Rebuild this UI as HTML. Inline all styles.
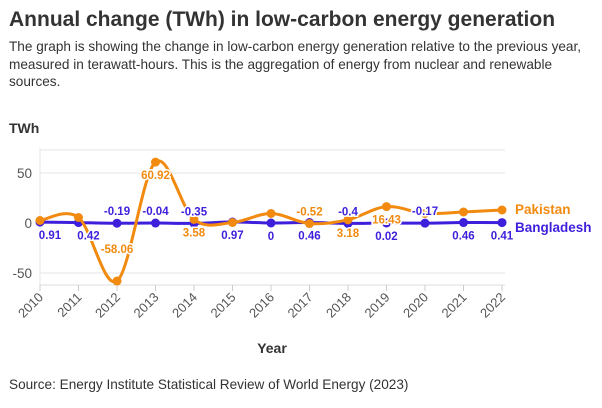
<!DOCTYPE html>
<html><head><meta charset="utf-8"><style>
body{margin:0;background:#fff;font-family:"Liberation Sans",sans-serif;color:#333;}
#wrap{position:relative;width:602px;height:408px;overflow:hidden;}
.t{position:absolute;left:9px;}
</style></head><body><div id="wrap">
<div class="t" style="top:8px;font-size:21px;font-weight:bold;color:#333;">Annual change (TWh) in low-carbon energy generation</div>
<div class="t" style="top:38px;width:590px;font-size:13.6px;line-height:17.5px;color:#333;">The graph is showing the change in low-carbon energy generation relative to the previous year, measured in terawatt-hours. This is the aggregation of energy from nuclear and renewable sources.</div>
<div class="t" style="top:377px;font-size:13.6px;color:#333;">Source: Energy Institute Statistical Review of World Energy (2023)</div>
<svg id="svg" width="602" height="408" style="position:absolute;left:0;top:0"></svg>
</div>
<script>
const years=[2010,2011,2012,2013,2014,2015,2016,2017,2018,2019,2020,2021,2022];
const pakistan=[2.5,5.5,-58.06,60.92,3.58,0.5,9.5,-0.52,3.18,16.43,9.5,11,13];
const bangladesh=[0.91,0.42,-0.19,-0.04,-0.35,0.97,0,0.46,-0.4,0.02,-0.17,0.46,0.41];
const pakLabels=[null,null,"-58.06","60.92","3.58",null,null,"-0.52","3.18","16.43",null,null,null];
const pakLabelAbove=[0,0,1,0,0,0,0,1,0,0,0,0,0];
const banLabels=["0.91","0.42","-0.19","-0.04","-0.35","0.97","0","0.46","-0.4","0.02","-0.17","0.46","0.41"];
const yTicks=[50,0,-50];
const svg=document.getElementById('svg');const NS='http://www.w3.org/2000/svg';
const X=y=>40+(y-2010)*38.5;const Y=v=>223-v*1.0;
function mk(t,a,name,txt){const e=document.createElementNS(NS,t);for(const k in a)e.setAttribute(k,a[k]);if(txt!=null)e.textContent=txt;svg.appendChild(e);return e;}
mk('text',{x:9,y:133,'font-size':14,'font-weight':'bold',fill:'#333'},'y-axis-title','TWh');
yTicks.forEach(t=>{mk('line',{x1:40,x2:505,y1:Y(t),y2:Y(t),stroke:'#e6e6e6'},'gridline');
mk('text',{x:32,y:Y(t)+5,'font-size':13.5,fill:'#555','text-anchor':'end'},'y-tick-label',String(t));});
mk('line',{x1:40,x2:505,y1:150,y2:150,stroke:'#e6e6e6'},'gridline-top');
mk('line',{x1:40,x2:40,y1:148,y2:285,stroke:'#e6e6e6'},'y-axis-line');
mk('line',{x1:40,x2:505,y1:285,y2:285,stroke:'#ddd'},'x-axis-line');
years.forEach(y=>{mk('line',{x1:X(y),x2:X(y),y1:285,y2:291,stroke:'#ccc'},'x-tick');
mk('text',{x:X(y)+4,y:298,'font-size':13,fill:'#555','text-anchor':'end',transform:`rotate(-45 ${X(y)+4} 298)`},'x-tick-label',String(y));});
mk('text',{x:272,y:353,'font-size':14,'font-weight':'bold',fill:'#333','text-anchor':'middle'},'x-axis-title','Year');
function path(vals){const p=vals.map((v,i)=>[X(years[i]),Y(v)]);let d=`M${p[0][0]},${p[0][1]}`;
for(let i=0;i<p.length-1;i++){const p0=p[i-1]||p[i],p1=p[i],p2=p[i+1],p3=p[i+2]||p2;
d+=`C${p1[0]+(p2[0]-p0[0])/6},${p1[1]+(p2[1]-p0[1])/6} ${p2[0]-(p3[0]-p1[0])/6},${p2[1]-(p3[1]-p1[1])/6} ${p2[0]},${p2[1]}`;}return d;}
function series(vals,col,name){mk('path',{d:path(vals),fill:'none',stroke:col,'stroke-width':3},name+'-line');
vals.forEach((v,i)=>mk('circle',{cx:X(years[i]),cy:Y(v),r:4.5,fill:col},name+'-point'));}
series(bangladesh,'#3d1fdc','bangladesh');series(pakistan,'#f18a0f','pakistan');
function lab(x,y,txt,col,name){mk('text',{x:x,y:y,'font-size':11.5,'font-weight':'bold',fill:col,'text-anchor':'middle',stroke:'#fff','stroke-width':3,'paint-order':'stroke'},name,txt);}
banLabels.forEach((l,i)=>{const above=bangladesh[i]<0;lab(X(years[i])+(i<2?10:0),above?Y(bangladesh[i])-8:Y(bangladesh[i])+17,l,'#3d1fdc','bangladesh-value-label');});
pakLabels.forEach((l,i)=>{if(!l)return;lab(X(years[i]),pakLabelAbove[i]?Y(pakistan[i])-(i==2?28:8):Y(pakistan[i])+17,l,'#f18a0f','pakistan-value-label');});
mk('text',{x:515,y:214,'font-size':13.5,'font-weight':'bold',fill:'#f18a0f'},'legend-pakistan','Pakistan');
mk('text',{x:515,y:232,'font-size':13.5,'font-weight':'bold',fill:'#3d1fdc'},'legend-bangladesh','Bangladesh');
</script></body></html>
